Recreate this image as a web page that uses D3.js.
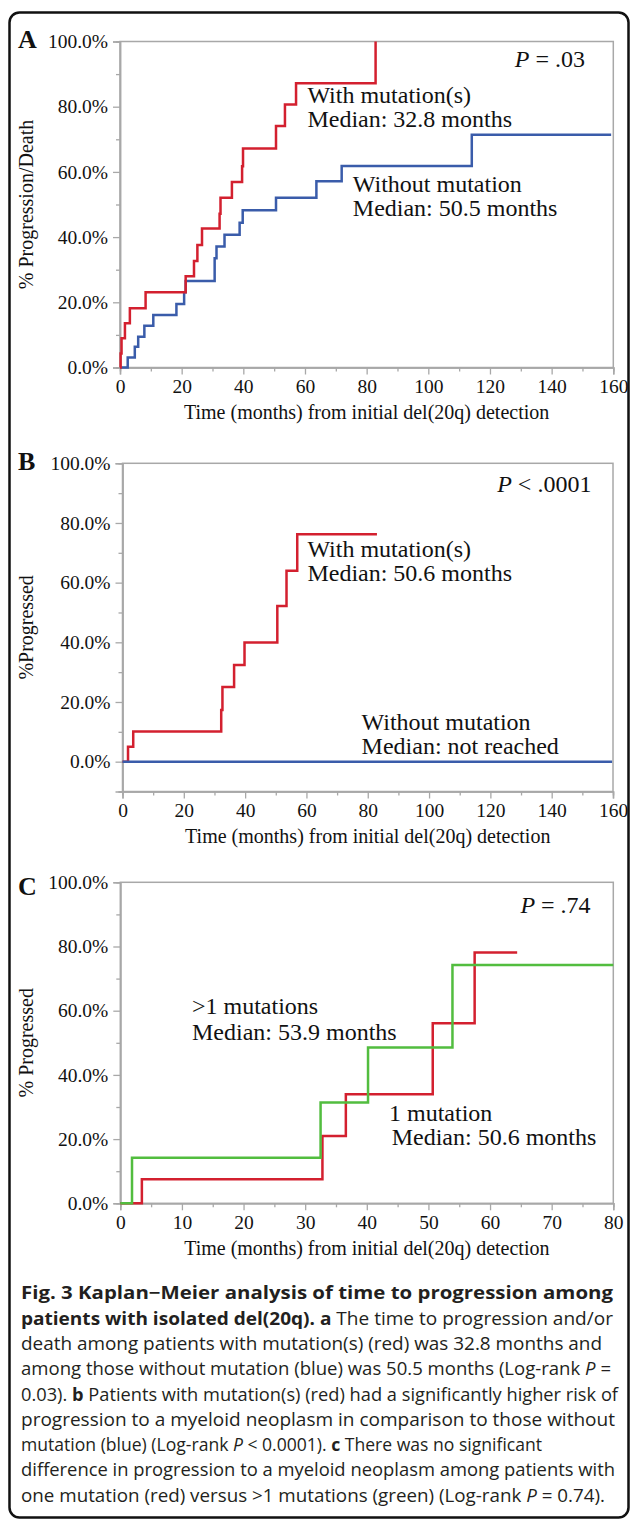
<!DOCTYPE html>
<html>
<head>
<meta charset="utf-8">
<script src="https://cdn.jsdelivr.net/npm/d3@7"></script>
<style>
  html, body { margin: 0; padding: 0; background: #fff; }
  svg { display: block; }
</style>
</head>
<body>
<svg id="drawing_region"></svg>
<script>
// ---- data ----
// panel A : progression / death
const timesA_with  = [0.2, 0.5, 1.6, 3.2, 8.3, 21.3, 24.0, 25.1, 26.6, 32.3, 32.6, 36.3, 39.6, 39.9, 50.6, 53.5, 57.1, 82.9];
const pctA_with    = [4.3, 9.0, 13.6, 18.2, 23.1, 28.0, 32.7, 37.6, 42.6, 47.2, 52.1, 56.9, 61.7, 67.2, 74.1, 80.7, 87.2, 100];
const endA_with    = 82.9;
const timesA_without = [2.5, 4.8, 5.9, 7.9, 10.8, 18.3, 20.8, 21.3, 30.7, 31.3, 33.9, 38.8, 39.8, 50.6, 63.7, 71.9, 114.1];
const pctA_without   = [3.1, 6.4, 9.4, 12.8, 16.1, 19.5, 23.1, 26.5, 33.5, 37.1, 40.7, 44.4, 48.2, 52.1, 57.1, 61.8, 71.4];
const endA_without   = 159.3;

// panel B : progressed
const timesB_with  = [1.8, 3.5, 32.2, 32.6, 36.4, 39.8, 50.5, 53.5, 57.0];
const pctB_with    = [5.0, 10.1, 17.3, 25.0, 32.4, 39.9, 52.2, 64.0, 76.2];
const endB_with    = 83.0;
const timesB_without = [];
const pctB_without   = [];
const endB_without   = 159.7;

// panel C : 1 mutation vs >1 mutations
const timesC_one   = [3.5, 32.8, 36.6, 50.7, 57.5];
const pctC_one     = [7.5, 21.0, 34.0, 56.1, 78.1];
const endC_one     = 64.4;
const timesC_multi = [1.9, 32.5, 40.2, 53.9];
const pctC_multi   = [14.2, 31.4, 48.5, 74.2];
const endC_multi   = 80;

// tick labels
const yTicks      = [0, 20, 40, 60, 80, 100];
const xTicksLong  = [0, 20, 40, 60, 80, 100, 120, 140, 160];
const xTicksShort = [0, 10, 20, 30, 40, 50, 60, 70, 80];

const RED = '#d3202f', BLUE = '#3a5caa', GREEN = '#52bd3f', GREY = '#a8a8a8';
const SERIF = '"Liberation Serif", "Times New Roman", serif';

const svg = d3.select('#drawing_region')
    .attr('width', 630)
    .attr('height', 1522);

// outer frame
svg.append('rect')
    .attr('x', 9.5).attr('y', 12.5)
    .attr('width', 619).attr('height', 1505)
    .attr('rx', 10)
    .attr('fill', 'none')
    .attr('stroke', '#111')
    .attr('stroke-width', 2.5);

function kmPoints(times, pcts, end) {
    const pts = [[0, 0]];
    times.forEach((t, i) => pts.push([t, pcts[i]]));
    pts.push([end, pcts.length ? pcts[pcts.length - 1] : 0]);
    return pts;
}

function addText(g, x, y, str, size, anchor) {
    return g.append('text')
        .attr('x', x).attr('y', y)
        .attr('font-family', SERIF)
        .attr('font-size', size)
        .attr('fill', '#111')
        .attr('text-anchor', anchor || 'start')
        .text(str);
}

function drawPanel(cfg) {
    const g = svg.append('g');

    const xscale = d3.scaleLinear().domain(cfg.xDomain).range([cfg.left, cfg.right]);
    const yscale = d3.scaleLinear().domain(cfg.yDomain).range([cfg.bottom, cfg.top]);

    // plot frame
    g.append('rect')
        .attr('x', cfg.left).attr('y', cfg.top)
        .attr('width', cfg.right - cfg.left).attr('height', cfg.bottom - cfg.top)
        .attr('fill', 'none').attr('stroke', GREY).attr('stroke-width', 1.5);

    // minor ticks
    const yMinor = d3.range(cfg.yDomain[0], cfg.yDomain[1] + 1, 10).filter(v => yTicks.indexOf(v) < 0);
    const xStep = cfg.xTicks[1] - cfg.xTicks[0];
    const xMinor = d3.range(cfg.xDomain[0] + xStep / 2, cfg.xDomain[1], xStep);

    const yMinorAxis = d3.axisLeft(yscale).tickValues(yMinor).tickSize(4).tickFormat('');
    const xMinorAxis = d3.axisBottom(xscale).tickValues(xMinor).tickSize(4).tickFormat('');
    const yAxis = d3.axisLeft(yscale).tickValues(yTicks).tickSize(7).tickPadding(5)
        .tickFormat(d => d.toFixed(1) + '%');
    const xAxis = d3.axisBottom(xscale).tickValues(cfg.xTicks).tickSize(7).tickPadding(5)
        .tickFormat(d3.format('d'));

    const axes = [
        g.append('g').attr('transform', `translate(${cfg.left},0)`).call(yMinorAxis),
        g.append('g').attr('transform', `translate(0,${cfg.bottom})`).call(xMinorAxis),
        g.append('g').attr('transform', `translate(${cfg.left},0)`).call(yAxis),
        g.append('g').attr('transform', `translate(0,${cfg.bottom})`).call(xAxis)
    ];
    axes.forEach(a => {
        a.select('.domain').attr('stroke', GREY).attr('stroke-width', 1.5);
        a.selectAll('.tick line').attr('stroke', GREY).attr('stroke-width', 1.3);
        a.selectAll('.tick text')
            .attr('font-family', SERIF).attr('font-size', 19.5).attr('fill', '#111');
    });

    // curves
    const line = d3.line()
        .x(d => xscale(d[0]))
        .y(d => yscale(d[1]))
        .curve(d3.curveStepAfter);

    cfg.series.forEach(s => {
        g.append('path')
            .datum(kmPoints(s.times, s.pcts, s.end))
            .attr('d', line)
            .attr('fill', 'none')
            .attr('stroke', s.color)
            .attr('stroke-width', 2.5)
            .attr('stroke-linejoin', 'miter');
    });

    // panel letter
    addText(g, 18, cfg.letterY, cfg.letter, 26).attr('font-weight', 'bold');

    // axis titles
    addText(g, (cfg.left + cfg.right) / 2, cfg.bottom + 51.5,
        'Time (months) from initial del(20q) detection', 20, 'middle');
    addText(g, 0, 0, cfg.yTitle, 20, 'middle')
        .attr('transform', `translate(33,${(cfg.top + cfg.bottom) / 2}) rotate(-90)`);

    // p value
    const p = addText(g, cfg.pX, cfg.pY, '', 24, 'end');
    p.append('tspan').attr('font-style', 'italic').text('P');
    p.append('tspan').text(cfg.pText);

    // labels
    cfg.labels.forEach(l => addText(g, l[0], l[1], l[2], 24));
}

drawPanel({
    letter: 'A', letterY: 48.3,
    left: 120, right: 613.3, top: 41.5, bottom: 367.5,
    xDomain: [0, 160], yDomain: [0, 100], xTicks: xTicksLong,
    yTitle: '% Progression/Death',
    pX: 585, pY: 66.7, pText: ' = .03',
    labels: [
        [307.4, 103, 'With mutation(s)'],
        [307.4, 127, 'Median: 32.8 months'],
        [352.8, 192, 'Without mutation'],
        [352.8, 216, 'Median: 50.5 months']
    ],
    series: [
        {times: timesA_without, pcts: pctA_without, end: endA_without, color: BLUE},
        {times: timesA_with, pcts: pctA_with, end: endA_with, color: RED}
    ]
});

drawPanel({
    letter: 'B', letterY: 470,
    left: 122.5, right: 613, top: 463.3, bottom: 791.5,
    xDomain: [0, 160], yDomain: [-10, 100], xTicks: xTicksLong,
    yTitle: '%Progressed',
    pX: 591.4, pY: 492.3, pText: ' < .0001',
    labels: [
        [307.4, 556.7, 'With mutation(s)'],
        [307.4, 580.7, 'Median: 50.6 months'],
        [361.6, 730, 'Without mutation'],
        [361.6, 754.3, 'Median: not reached']
    ],
    series: [
        {times: timesB_with, pcts: pctB_with, end: endB_with, color: RED},
        {times: timesB_without, pcts: pctB_without, end: endB_without, color: BLUE}
    ]
});

drawPanel({
    letter: 'C', letterY: 895,
    left: 120.3, right: 613.3, top: 882.3, bottom: 1203.3,
    xDomain: [0, 80], yDomain: [0, 100], xTicks: xTicksShort,
    yTitle: '% Progressed',
    pX: 590.6, pY: 913.3, pText: ' = .74',
    labels: [
        [192, 1014, '>1 mutations'],
        [192, 1040, 'Median: 53.9 months'],
        [389, 1120.7, '1 mutation'],
        [391.7, 1145, 'Median: 50.6 months']
    ],
    series: [
        {times: timesC_one, pcts: pctC_one, end: endC_one, color: RED},
        {times: timesC_multi, pcts: pctC_multi, end: endC_multi, color: GREEN}
    ]
});

// ---- caption ----
const captionLines = [
    [['b', 'Fig. 3 Kaplan\u2212Meier analysis of time to progression among']],
    [['b', 'patients with isolated del(20q). a'], ['r', ' The time to progression and/or']],
    [['r', 'death among patients with mutation(s) (red) was 32.8 months and']],
    [['r', 'among those without mutation (blue) was 50.5 months (Log-rank '], ['i', 'P'], ['r', ' =']],
    [['r', '0.03). '], ['b', 'b'], ['r', ' Patients with mutation(s) (red) had a significantly higher risk of']],
    [['r', 'progression to a myeloid neoplasm in comparison to those without']],
    [['r', 'mutation (blue) (Log-rank '], ['i', 'P'], ['r', ' < 0.0001). '], ['b', 'c'], ['r', ' There was no significant']],
    [['r', 'difference in progression to a myeloid neoplasm among patients with']],
    [['r', 'one mutation (red) versus >1 mutations (green) (Log-rank '], ['i', 'P'], ['r', ' = 0.74).']]
];
const captionWidths = [592, 592, 581, 590, 597, 594, 521, 594, 584];

captionLines.forEach((segs, i) => {
    const t = svg.append('text')
        .attr('x', 21)
        .attr('y', 1299.3 + i * 25.3)
        .attr('font-family', '"Open Sans", "Noto Sans", sans-serif')
        .attr('font-size', 17.5)
        .attr('fill', '#231f20')
        .attr('textLength', captionWidths[i])
        .attr('lengthAdjust', 'spacingAndGlyphs');
    segs.forEach(s => {
        t.append('tspan')
            .attr('font-weight', s[0] === 'b' ? 'bold' : 'normal')
            .attr('font-style', s[0] === 'i' ? 'italic' : 'normal')
            .text(s[1]);
    });
});
</script>
</body>
</html>
